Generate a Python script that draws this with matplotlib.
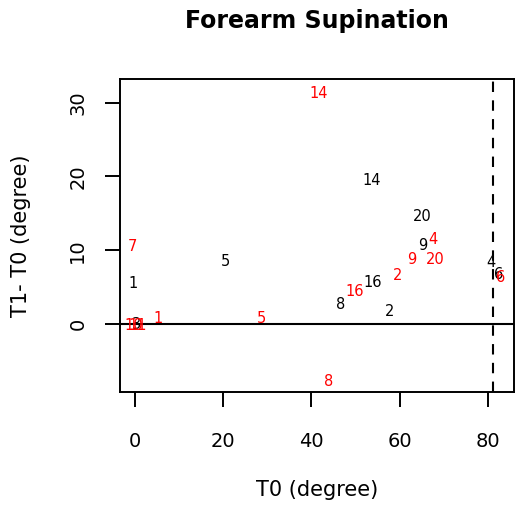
import matplotlib
matplotlib.use("Agg")
import matplotlib.pyplot as plt

# black labels (T1 - T0)
labels_black = ["1", "5", "14", "20", "9", "4", "16", "8", "2", "6", "3"]
t0_black = [-0.4, 20.4, 53.7, 65.0, 65.2, 80.7, 53.9, 46.5, 57.8, 82.4, 0.4]
diff_black = [5.5, 8.5, 19.5, 14.6, 10.7, 8.4, 5.6, 2.6, 1.7, 6.7, 0.0]

# red labels
labels_red = ["14", "7", "4", "9", "20", "2", "16", "5", "1", "8", "6", "10", "11"]
t0_red = [41.7, -0.6, 67.6, 62.7, 68.0, 59.6, 49.9, 28.7, 5.3, 43.8, 82.8, -0.2, 0.6]
diff_red = [31.3, 10.5, 11.5, 8.7, 8.7, 6.6, 4.4, 0.8, 0.8, -7.8, 6.3, -0.2, -0.2]

cutoff = 81.1

plt.rcParams['font.family'] = ['DejaVu Sans']

fig = plt.figure(figsize=(5.15, 5.07), dpi=100)
ax = fig.add_axes([0.233, 0.2268, 0.765, 0.6173])

for lab, x, y in zip(labels_black, t0_black, diff_black):
    ax.text(x, y, lab, color="black", fontsize=10.5, ha="center", va="center")
for lab, x, y in zip(labels_red, t0_red, diff_red):
    ax.text(x, y, lab, color="red", fontsize=10.5, ha="center", va="center")

ax.axhline(0, color="black", lw=1.5)
ax.axvline(cutoff, color="black", lw=1.5, ls=(0, (5, 4)))

ax.set_xlim(-3.4, 85.9)
ax.set_ylim(-9.2, 33.2)
ax.set_xticks([0, 20, 40, 60, 80])
ax.set_yticks([0, 10, 20, 30])
ax.tick_params(direction="out", length=10.5, width=1.4, labelsize=14)
ax.tick_params(axis="x", pad=18)
ax.tick_params(axis="y", pad=13)
for lab in ax.get_yticklabels():
    lab.set_rotation(90)
    lab.set_va("center")
for s in ax.spines.values():
    s.set_linewidth(1.4)

ax.set_xlabel("T0 (degree)", fontsize=15, labelpad=21)
ax.set_ylabel("T1- T0 (degree)", fontsize=15, labelpad=27)
ax.set_title("Forearm Supination", fontsize=17, fontweight="bold", pad=37)

fig.savefig("out.png", dpi=100)
